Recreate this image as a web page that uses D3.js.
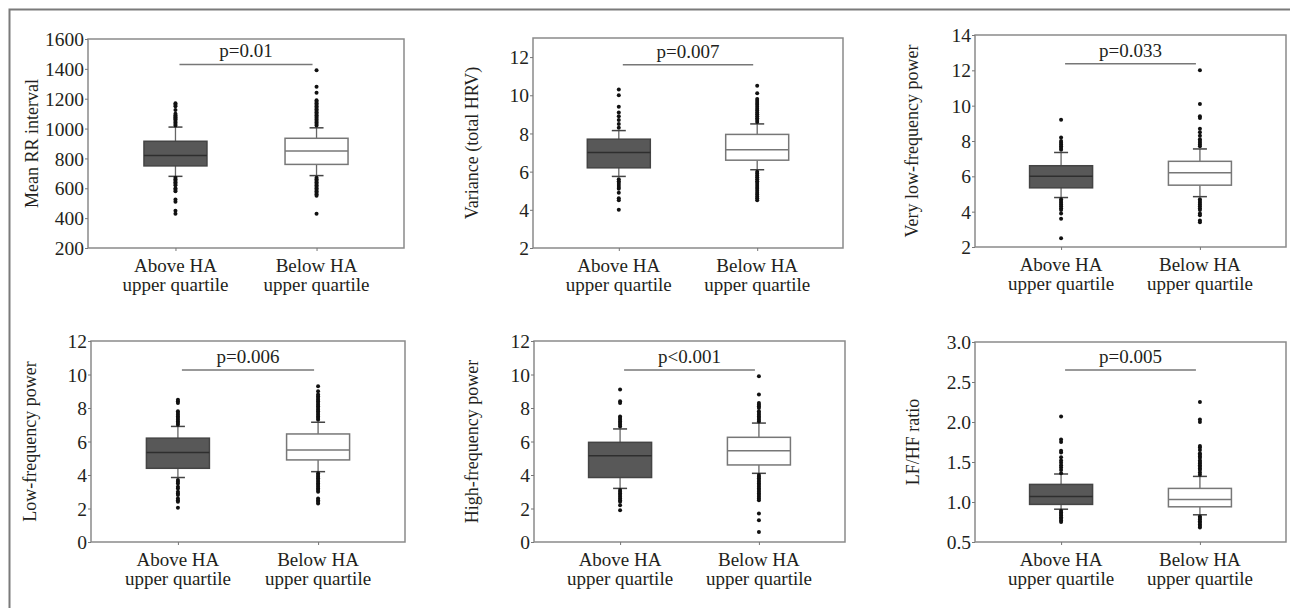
<!DOCTYPE html>
<html>
<head>
<meta charset="utf-8">
<script src="https://cdn.jsdelivr.net/npm/d3@7"></script>
<style>
  body { margin: 0; background: #fff; }
  svg text { font-family: "Liberation Serif", "DejaVu Serif", serif; fill: #231f20; }
</style>
</head>
<body>
<div id="chart-area"></div>
<script>
// groups shown on every x axis
var groups = ["above", "below"];
var groupLines = [["Above HA", "upper quartile"], ["Below HA", "upper quartile"]];

// one entry per panel, left to right, top to bottom
var yTitles = ["Mean RR interval", "Variance (total HRV)", "Very low-frequency power",
               "Low-frequency power", "High-frequency power", "LF/HF ratio"];
var yDomains = [[200, 1600], [2, 13], [2, 14], [0, 12], [0, 12], [0.5, 3.0]];
var yTicks = [
  [200, 400, 600, 800, 1000, 1200, 1400, 1600],
  [2, 4, 6, 8, 10, 12],
  [2, 4, 6, 8, 10, 12, 14],
  [0, 2, 4, 6, 8, 10, 12],
  [0, 2, 4, 6, 8, 10, 12],
  [0.5, 1.0, 1.5, 2.0, 2.5, 3.0]
];
var yTickFormat = ["d", "d", "d", "d", "d", ".1f"];
var pLabels = ["p=0.01", "p=0.007", "p=0.033", "p=0.006", "p<0.001", "p=0.005"];
var pLineLevel = [1430, 11.6, 12.37, 10.27, 10.27, 2.65];

// [lower whisker, Q1, median, Q3, upper whisker]
var aboveStats = [
  [680, 750, 820, 915, 1010],
  [5.75, 6.2, 7.0, 7.7, 8.15],
  [4.8, 5.35, 6.0, 6.6, 7.35],
  [3.85, 4.4, 5.35, 6.2, 6.9],
  [3.2, 3.85, 5.15, 5.95, 6.75],
  [0.91, 0.97, 1.07, 1.22, 1.35]
];
var belowStats = [
  [685, 760, 850, 935, 1005],
  [6.1, 6.6, 7.15, 7.95, 8.5],
  [4.85, 5.5, 6.2, 6.85, 7.55],
  [4.2, 4.9, 5.5, 6.45, 7.15],
  [4.1, 4.6, 5.45, 6.25, 7.1],
  [0.84, 0.94, 1.03, 1.17, 1.32]
];

var aboveOutliers = [
  [1170, 1160, 1150, 1125, 1100, 1090, 1080, 1075, 1065, 1060, 1050, 1040, 1030, 1020,
   670, 660, 650, 640, 630, 620, 600, 590, 580, 525, 510, 450, 430],
  [8.3, 8.5, 8.7, 8.9, 9.1, 9.4, 10.0, 10.3,
   5.6, 5.5, 5.4, 5.3, 5.2, 5.1, 4.9, 4.6, 4.5, 4.0],
  [7.5, 7.6, 7.7, 7.8, 7.9, 8.0, 8.2, 9.2,
   4.7, 4.6, 4.5, 4.4, 4.3, 4.2, 4.1, 3.9, 3.6, 2.5],
  [7.0, 7.1, 7.2, 7.3, 7.4, 7.5, 7.6, 7.7, 7.8, 8.3, 8.4, 8.5,
   3.7, 3.6, 3.5, 3.3, 3.2, 3.0, 2.9, 2.8, 2.6, 2.5, 2.4, 2.05],
  [6.9, 7.0, 7.1, 7.2, 7.3, 7.4, 7.5, 8.3, 8.4, 9.1,
   3.1, 3.0, 2.9, 2.8, 2.7, 2.6, 2.5, 2.4, 2.2, 1.9],
  [1.36, 1.40, 1.43, 1.46, 1.49, 1.52, 1.56, 1.62, 1.64, 1.75, 1.78, 2.07,
   0.89, 0.87, 0.85, 0.83, 0.81, 0.79, 0.77, 0.75]
];
var belowOutliers = [
  [1390, 1280, 1240, 1190, 1180, 1170, 1160, 1150, 1140, 1130, 1120, 1110, 1100, 1090,
   1080, 1070, 1060, 1050, 1040, 1030, 1020,
   670, 660, 650, 640, 630, 620, 610, 600, 590, 580, 570, 560, 550, 430],
  [8.6, 8.7, 8.8, 8.9, 9.0, 9.1, 9.2, 9.3, 9.4, 9.5, 9.6, 9.7, 9.8, 10.1, 10.5,
   6.0, 5.9, 5.8, 5.7, 5.6, 5.5, 5.4, 5.3, 5.2, 5.1, 5.0, 4.9, 4.8, 4.7, 4.6, 4.5],
  [7.7, 7.8, 7.9, 8.0, 8.1, 8.3, 8.5, 8.7, 9.3, 9.4, 10.1, 12.0,
   4.7, 4.6, 4.5, 4.4, 4.3, 4.2, 4.1, 3.9, 3.8, 3.5, 3.4],
  [7.3, 7.4, 7.5, 7.6, 7.7, 7.8, 7.9, 8.0, 8.1, 8.2, 8.3, 8.4, 8.5, 8.6, 8.7, 8.8, 9.0, 9.3,
   4.1, 4.0, 3.9, 3.8, 3.7, 3.6, 3.5, 3.4, 3.3, 3.2, 3.1, 3.0, 2.6, 2.5, 2.4, 2.3],
  [7.2, 7.3, 7.4, 7.5, 7.6, 7.7, 7.8, 8.0, 8.1, 8.2, 8.3, 8.8, 9.9,
   4.0, 3.9, 3.8, 3.7, 3.6, 3.5, 3.4, 3.3, 3.2, 3.1, 3.0, 2.9, 2.8, 2.7, 2.6, 2.5, 1.7, 1.3, 0.6],
  [1.34, 1.37, 1.40, 1.42, 1.44, 1.46, 1.48, 1.50, 1.52, 1.55, 1.57, 1.59, 1.61, 1.65, 1.68, 1.70,
   2.0, 2.03, 2.25,
   0.82, 0.80, 0.78, 0.76, 0.74, 0.72, 0.70, 0.68]
];

// plot rectangles of the six panels
var layout = [
  { left: 88,  right: 404,  top: 39,  bottom: 248, titleX: 38 },
  { left: 533, right: 843,  top: 38,  bottom: 248, titleX: 478 },
  { left: 975, right: 1286, top: 35,  bottom: 247, titleX: 918 },
  { left: 91,  right: 405,  top: 341, bottom: 542, titleX: 36 },
  { left: 534, right: 845,  top: 341, bottom: 542, titleX: 478 },
  { left: 975, right: 1286, top: 342, bottom: 542, titleX: 919 }
];

var W = 1290, H = 608;
var boxWidth = 63, capWidth = 14;

var svg = d3.select("#chart-area")
    .append("svg")
    .attr("width", W)
    .attr("height", H);

// outer frame (only top and left edges visible)
svg.append("path")
    .attr("d", "M9.5," + H + "V9.5H" + W)
    .attr("fill", "none")
    .attr("stroke", "#7a7a7a")
    .attr("stroke-width", 2);

layout.forEach(function(L, i) {
    var g = svg.append("g");

    var x = d3.scalePoint()
        .domain(groups)
        .range([L.left, L.right])
        .padding(0.62);

    var y = d3.scaleLinear()
        .domain(yDomains[i])
        .range([L.bottom, L.top]);

    // frame
    g.append("rect")
        .attr("x", L.left)
        .attr("y", L.top)
        .attr("width", L.right - L.left)
        .attr("height", L.bottom - L.top)
        .attr("fill", "none")
        .attr("stroke", "#8a8a8a")
        .attr("stroke-width", 1.5);

    // y axis
    var yAxis = g.append("g")
        .attr("transform", "translate(" + L.left + ",0)")
        .call(d3.axisLeft(y).tickValues(yTicks[i]).tickSize(3).tickPadding(1)
              .tickFormat(d3.format(yTickFormat[i])));
    yAxis.select(".domain").remove();
    yAxis.selectAll(".tick line").attr("stroke", "#777");
    yAxis.selectAll("text")
        .style("font-size", "19.5px")
        .attr("fill", "#231f20")
        .attr("dy", "0.34em");

    // x axis
    var xAxis = g.append("g")
        .attr("transform", "translate(0," + L.bottom + ")")
        .call(d3.axisBottom(x).tickSize(3).tickFormat(""));
    xAxis.select(".domain").remove();
    xAxis.selectAll(".tick line").attr("stroke", "#777");

    groups.forEach(function(gr, j) {
        var t = g.append("text")
            .attr("x", x(gr))
            .attr("y", L.bottom + 24)
            .attr("text-anchor", "middle")
            .style("font-size", "19px");
        t.append("tspan").attr("x", x(gr)).text(groupLines[j][0]);
        t.append("tspan").attr("x", x(gr)).attr("dy", 19).text(groupLines[j][1]);
    });

    // y title
    g.append("text")
        .attr("transform", "translate(" + L.titleX + "," + ((L.top + L.bottom) / 2) + ") rotate(-90)")
        .attr("text-anchor", "middle")
        .style("font-size", "18px")
        .text(yTitles[i]);

    // boxes
    var boxData = [
        { key: "above", s: aboveStats[i], out: aboveOutliers[i], fill: "#585858", stroke: "#444", med: "#2e2e2e" },
        { key: "below", s: belowStats[i], out: belowOutliers[i], fill: "#ffffff", stroke: "#777", med: "#777" }
    ];

    boxData.forEach(function(b) {
        var cx = x(b.key);
        var s = b.s;

        // whiskers
        g.append("line")
            .attr("x1", cx).attr("x2", cx)
            .attr("y1", y(s[0])).attr("y2", y(s[1]))
            .attr("stroke", "#666").attr("stroke-width", 1.3);
        g.append("line")
            .attr("x1", cx).attr("x2", cx)
            .attr("y1", y(s[3])).attr("y2", y(s[4]))
            .attr("stroke", "#666").attr("stroke-width", 1.3);
        [s[0], s[4]].forEach(function(v) {
            g.append("line")
                .attr("x1", cx - capWidth / 2).attr("x2", cx + capWidth / 2)
                .attr("y1", y(v)).attr("y2", y(v))
                .attr("stroke", "#444").attr("stroke-width", 1.5);
        });

        g.append("rect")
            .attr("x", cx - boxWidth / 2)
            .attr("y", y(s[3]))
            .attr("width", boxWidth)
            .attr("height", y(s[1]) - y(s[3]))
            .attr("fill", b.fill)
            .attr("stroke", b.stroke)
            .attr("stroke-width", 1.5);

        g.append("line")
            .attr("x1", cx - boxWidth / 2).attr("x2", cx + boxWidth / 2)
            .attr("y1", y(s[2])).attr("y2", y(s[2]))
            .attr("stroke", b.med).attr("stroke-width", 1.5);

        g.selectAll(null)
            .data(b.out)
            .enter()
            .append("circle")
            .attr("cx", cx)
            .attr("cy", function(d) { return y(d); })
            .attr("r", 2)
            .attr("fill", "#111");
    });

    // significance bar
    var x1 = x("above") + 4, x2 = x("below") - 4;
    g.append("line")
        .attr("x1", x1).attr("x2", x2)
        .attr("y1", y(pLineLevel[i])).attr("y2", y(pLineLevel[i]))
        .attr("stroke", "#777").attr("stroke-width", 1.5);
    g.append("text")
        .attr("x", (x1 + x2) / 2)
        .attr("y", y(pLineLevel[i]) - 7)
        .attr("text-anchor", "middle")
        .style("font-size", "19px")
        .text(pLabels[i]);
});
</script>
</body>
</html>
